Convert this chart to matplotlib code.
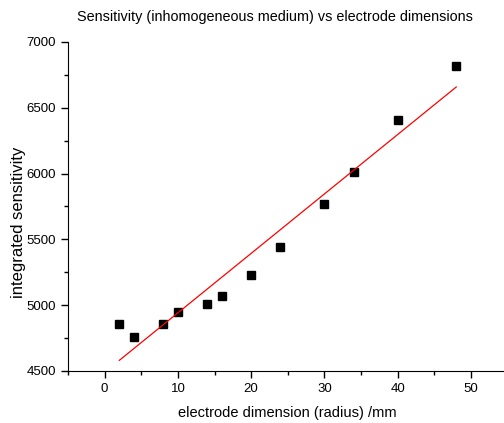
import numpy as np
import matplotlib.pyplot as plt
from matplotlib.ticker import MultipleLocator

plt.rcParams['font.family'] = ['Liberation Sans', 'DejaVu Sans']

# 数据
radius = [2, 4, 8, 10, 14, 16, 20, 24, 30, 34, 40, 48]
sensitivity = [4855, 4758, 4857, 4945, 5010, 5070, 5230, 5442, 5770, 6010, 6405, 6818]

# 线性拟合
k, b = np.polyfit(radius, sensitivity, 1)
fit_x = np.array([min(radius), max(radius)])
fit_y = k * fit_x + b

fig = plt.figure(figsize=(5.04, 4.23), dpi=100)
ax = fig.add_axes([0.135, 0.123, 0.872, 0.778])

ax.plot(radius, sensitivity, 's', color='black', markersize=5.5)
ax.plot(fit_x, fit_y, color='red', linewidth=0.9)

ax.set_xlim(-5, 55)
ax.set_ylim(4500, 7000)
ax.xaxis.set_major_locator(MultipleLocator(10))
ax.xaxis.set_minor_locator(MultipleLocator(5))
ax.yaxis.set_major_locator(MultipleLocator(500))
ax.yaxis.set_minor_locator(MultipleLocator(250))
ax.tick_params(which='major', direction='out', length=5, width=1, labelsize=9.5)
ax.tick_params(which='minor', direction='out', length=3, width=1)

ax.spines['top'].set_visible(False)
ax.spines['right'].set_visible(False)

ax.set_xlabel('electrode dimension (radius) /mm', fontsize=10.5, labelpad=8)
fig.text(19 / 504, 1 - 222 / 423, 'integrated sensitivity', fontsize=12,
         rotation=90, ha='center', va='center')
fig.text(275 / 504, 1 - 17 / 423, 'Sensitivity (inhomogeneous medium) vs electrode dimensions',
         fontsize=10.4, ha='center', va='center')

plt.savefig('out.png', dpi=100)
